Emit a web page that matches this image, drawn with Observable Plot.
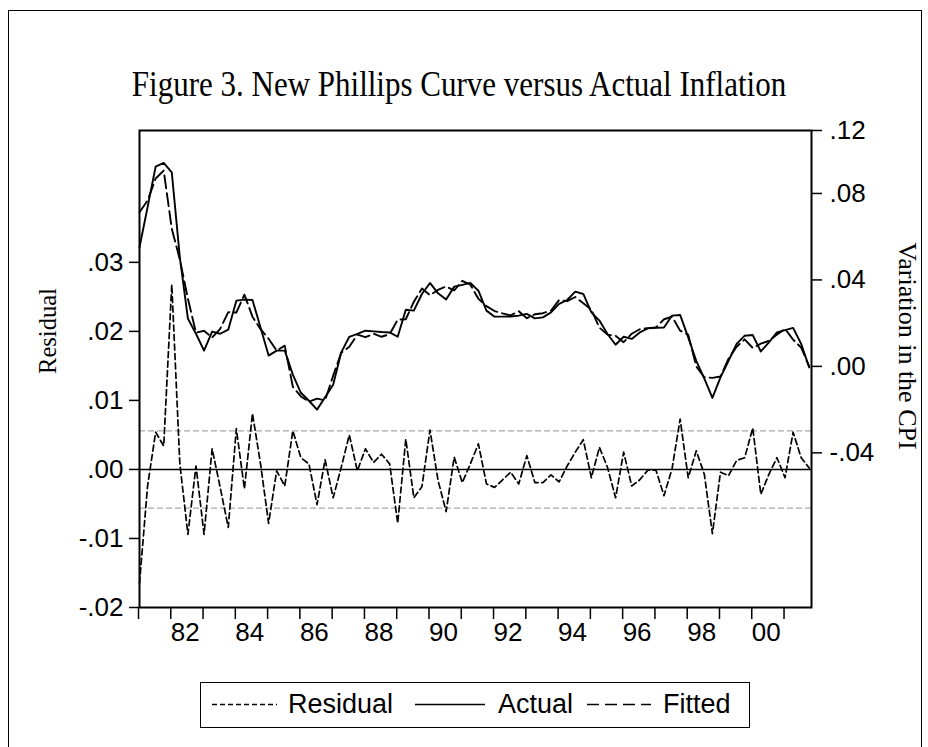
<!DOCTYPE html>
<html>
<head>
<meta charset="utf-8">
<script src="https://cdn.jsdelivr.net/npm/d3@7"></script>
<script src="https://cdn.jsdelivr.net/npm/@observablehq/plot@0.6"></script>
<style>
  html, body { margin: 0; padding: 0; background: #fff; }
  #wrap { position: relative; width: 928px; height: 747px; overflow: hidden; background: #fff; }
  #border { position: absolute; left: 8px; top: 10px; width: 914px; height: 800px; border: 1.5px solid #000; box-sizing: border-box; pointer-events: none; }
  #title { position: absolute; left: 0; width: 918px; top: 70px; text-align: center; font-family: "Liberation Serif", "Times New Roman", serif; font-size: 31px; line-height: 31px; white-space: nowrap; transform: scaleY(1.17); transform-origin: 50% 26px; }
  #chart { position: absolute; left: 0; top: 100px; }
  .ylab { position: absolute; font-family: "Liberation Serif", "Times New Roman", serif; white-space: nowrap; line-height: 26px; }
  #legend { position: absolute; left: 200px; top: 682px; width: 550px; height: 46px; border: 1.5px solid #000; box-sizing: border-box; font-family: "Liberation Sans", Arial, sans-serif; font-size: 27px; }
  #legend .it { position: absolute; top: 6px; line-height: 30px; white-space: nowrap; }
  #legend svg { position: absolute; top: 0; left: 0; }
</style>
</head>
<body>
<div id="wrap">
  <div id="title">Figure 3. New Phillips Curve versus Actual Inflation</div>
  <div id="chart"></div>
  <div class="ylab" id="ylabL">Residual</div>
  <div class="ylab" id="ylabR">Variation in the CPI</div>
  <div id="legend"></div>
  <div id="border"></div>
</div>
<script>
// ---- data (quarterly, 1981Q1 - 2001Q4) ----
const startYear = 1981;
const residual = [
  -0.0165, -0.0024, 0.0054, 0.0034, 0.0268, 0.0008, -0.0094, 0.0005,
  -0.0094, 0.0030, -0.0026, -0.0084, 0.0059, -0.0028, 0.0081, 0.0008,
  -0.0078, -0.0002, -0.0024, 0.0056, 0.0017, 0.0008, -0.0051, 0.0014,
  -0.0041, 0.0003, 0.0050, -0.0002, 0.0030, 0.0010, 0.0022, 0.0008,
  -0.0078, 0.0044, -0.0041, -0.0025, 0.0057, -0.0016, -0.0061, 0.0018,
  -0.0019, 0.0008, 0.0037, -0.0021, -0.0026, -0.0015, -0.0004, -0.0021,
  0.0020, -0.0019, -0.0019, -0.0008, -0.0018, 0.0005, 0.0025, 0.0043,
  -0.0012, 0.0032, 0.0003, -0.0041, 0.0025, -0.0024, -0.0015, -0.0001,
  -0.0001, -0.0038, 0.0001, 0.0073, -0.0012, 0.0027, -0.0007, -0.0093,
  -0.0004, -0.0009, 0.0013, 0.0017, 0.0060, -0.0036, -0.0007, 0.0017,
  -0.0012, 0.0054, 0.0017, 0.0002
];
const actual = [
  0.0551, 0.0736, 0.0924, 0.0941, 0.0898, 0.0504, 0.0221, 0.0151,
  0.0073, 0.0161, 0.0151, 0.0170, 0.0304, 0.0309, 0.0307, 0.0180,
  0.0050, 0.0073, 0.0073, -0.0038, -0.0122, -0.0159, -0.0200, -0.0143,
  -0.0085, 0.0065, 0.0137, 0.0150, 0.0165, 0.0162, 0.0159, 0.0157,
  0.0137, 0.0262, 0.0258, 0.0335, 0.0386, 0.0338, 0.0309, 0.0369,
  0.0377, 0.0386, 0.0350, 0.0258, 0.0230, 0.0230, 0.0231, 0.0235,
  0.0243, 0.0222, 0.0227, 0.0250, 0.0289, 0.0307, 0.0346, 0.0335,
  0.0250, 0.0212, 0.0150, 0.0100, 0.0137, 0.0127, 0.0157, 0.0176,
  0.0179, 0.0180, 0.0235, 0.0238, 0.0134, 0.0026, -0.0057, -0.0146,
  -0.0051, 0.0026, 0.0104, 0.0142, 0.0145, 0.0069, 0.0111, 0.0157,
  0.0168, 0.0178, 0.0104, -0.0005
];
const fitted = [
  0.0713, 0.0767, 0.0869, 0.0906, 0.0637, 0.0494, 0.0313, 0.0156,
  0.0165, 0.0133, 0.0174, 0.0251, 0.0249, 0.0332, 0.0230, 0.0172,
  0.0128, 0.0073, 0.0096, -0.0094, -0.0139, -0.0163, -0.0149, -0.0157,
  -0.0043, 0.0063, 0.0091, 0.0147, 0.0135, 0.0151, 0.0137, 0.0149,
  0.0216, 0.0218, 0.0299, 0.0360, 0.0329, 0.0354, 0.0370, 0.0351,
  0.0396, 0.0378, 0.0313, 0.0279, 0.0256, 0.0245, 0.0236, 0.0255,
  0.0223, 0.0241, 0.0246, 0.0258, 0.0307, 0.0302, 0.0321, 0.0292,
  0.0262, 0.0179, 0.0147, 0.0142, 0.0112, 0.0151, 0.0172, 0.0177,
  0.0180, 0.0218, 0.0230, 0.0165, 0.0147, 0.0000, -0.0050, -0.0053,
  -0.0047, 0.0036, 0.0091, 0.0125, 0.0085, 0.0105, 0.0118, 0.0147,
  0.0174, 0.0124, 0.0087, -0.0001
];
const seBand = 0.0056;                       // +/- 1 S.E. band of the residual
const leftTicks = [-0.02, -0.01, 0, 0.01, 0.02, 0.03];
const rightTicks = [-0.04, 0, 0.04, 0.08];   // CPI axis ticks
const rightTickLabels = ["-.04", ".00", ".04", ".08", ".12"];
const xTickYears = d3.range(1981, 2002);
const residDomain = [-0.02, 0.0491];
// CPI axis expressed on the residual axis (right scale offset/ratio)
const cpiZeroOnResid = 0.014928;
const cpiRatio = 0.313152;

// ---- build ----
const toR = c => cpiZeroOnResid + cpiRatio * c;
const rows = residual.map((r, i) => ({
  t: startYear + i / 4,
  resid: r,
  actual: toR(actual[i]),
  fitted: toR(fitted[i])
}));
const rightPos = [...rightTicks.map(toR), residDomain[1]];
const fmt = d => d3.format(".2f")(d).replace("\u2212", "-").replace("0.", ".");

const chart = Plot.plot({
  width: 928,
  height: 560,
  marginLeft: 139,
  marginRight: 117,
  marginTop: 30,
  marginBottom: 53,
  x: {domain: [1981, 2001.82], axis: null},
  y: {domain: residDomain, axis: null},
  style: {fontFamily: "'Liberation Sans', Arial, sans-serif", fontSize: "26px", color: "#000", background: "transparent", overflow: "visible"},
  marks: [
    Plot.ruleY([seBand, -seBand], {stroke: "#a8a8a8", strokeWidth: 1.2, strokeDasharray: "6,3"}),
    Plot.ruleY([0], {stroke: "#000", strokeWidth: 1.4}),
    Plot.line(rows, {x: "t", y: "resid", stroke: "#000", strokeWidth: 1.7, strokeDasharray: "6,3.5"}),
    Plot.line(rows, {x: "t", y: "actual", stroke: "#000", strokeWidth: 1.9}),
    Plot.line(rows, {x: "t", y: "fitted", stroke: "#000", strokeWidth: 1.9, strokeDasharray: "13,5"}),
    Plot.frame({stroke: "#000", strokeWidth: 2}),
    Plot.axisY(leftTicks, {anchor: "left", label: null, tickSize: 10, tickPadding: 6, tickFormat: fmt, fontSize: 26, strokeWidth: 1.5}),
    Plot.axisY(rightPos, {anchor: "right", label: null, tickSize: 10, tickPadding: 8, fontSize: 26, strokeWidth: 1.5,
      tickFormat: d => rightTickLabels[rightPos.indexOf(d)]}),
    Plot.axisX(xTickYears, {anchor: "bottom", label: null, tickSize: 12, tickPadding: 3, fontSize: 26, strokeWidth: 1.5,
      textAnchor: "start", dx: -1, tickFormat: d => d % 2 === 0 ? String(d % 100).padStart(2, "0") : ""})
  ]
});
document.getElementById("chart").appendChild(chart);

// axis titles
const L = document.getElementById("ylabL");
L.style.fontSize = "24.5px";
L.style.left = "48px"; L.style.top = "331px";
L.style.transform = "translate(-50%, -50%) rotate(-90deg)";
const R = document.getElementById("ylabR");
R.style.fontSize = "26px";
R.style.left = "907px"; R.style.top = "346px";
R.style.transform = "translate(-50%, -50%) rotate(90deg)";

// legend
const legendItems = [
  {label: "Residual", dash: "5,3", x0: 11, x1: 76, tx: 87},
  {label: "Actual", dash: null, x0: 214, x1: 284, tx: 297},
  {label: "Fitted", dash: "12,6", x0: 386, x1: 450, tx: 462}
];
const leg = document.getElementById("legend");
const NS = "http://www.w3.org/2000/svg";
const lsvg = document.createElementNS(NS, "svg");
lsvg.setAttribute("width", 547); lsvg.setAttribute("height", 43);
for (const it of legendItems) {
  const ln = document.createElementNS(NS, "line");
  ln.setAttribute("x1", it.x0); ln.setAttribute("x2", it.x1);
  ln.setAttribute("y1", 21.5); ln.setAttribute("y2", 21.5);
  ln.setAttribute("stroke", "#000"); ln.setAttribute("stroke-width", 1.6);
  if (it.dash) ln.setAttribute("stroke-dasharray", it.dash);
  lsvg.appendChild(ln);
  const s = document.createElement("span");
  s.className = "it"; s.style.left = it.tx + "px"; s.textContent = it.label;
  leg.appendChild(s);
}
leg.appendChild(lsvg);
</script>
</body>
</html>
